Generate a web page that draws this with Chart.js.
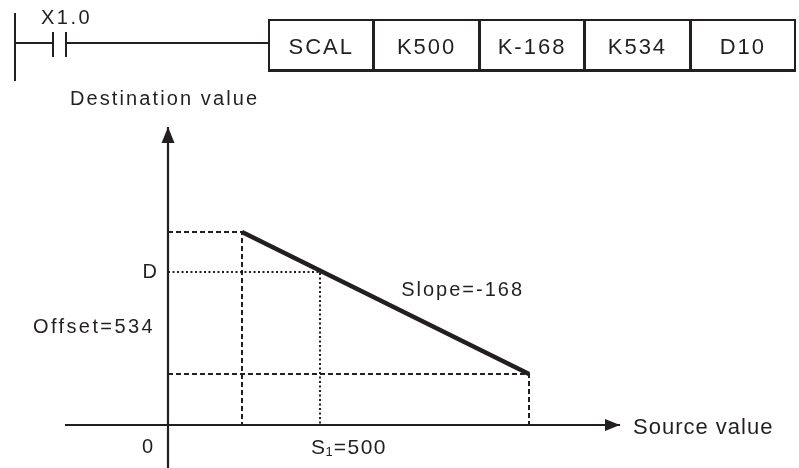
<!DOCTYPE html>
<html>
<head>
<meta charset="utf-8">
<script src="https://cdn.jsdelivr.net/npm/chart.js@4.4.1/dist/chart.umd.min.js"></script>
<style>
  html, body { margin:0; padding:0; background:#ffffff; }
  body { width:799px; height:468px; position:relative; overflow:hidden; font-family:"Liberation Sans", Arial, sans-serif; color:#231f20; }
  #chart { position:absolute; left:0; top:0; }
  .seg { position:absolute; background:#231f20; }
  #contactLabel { position:absolute; left:41px; top:5px; font-size:20px; letter-spacing:2.5px; line-height:24px; }
  #box { position:absolute; left:268px; top:19px; width:524px; height:48px; border:2px solid #231f20; border-bottom-width:3px; display:flex; }
  #box div { flex:1 1 0; display:flex; align-items:center; justify-content:center; font-size:22px; letter-spacing:2px; padding-top:4px; box-sizing:border-box; }
  #box div + div { border-left:3px solid #231f20; }
</style>
</head>
<body>
<canvas id="chart" width="799" height="468"></canvas>
<div class="seg" style="left:14px;top:13px;width:2px;height:68px"></div>
<div class="seg" style="left:14px;top:42px;width:40px;height:2px"></div>
<div class="seg" style="left:52px;top:32px;width:2px;height:25px"></div>
<div class="seg" style="left:65px;top:32px;width:2px;height:25px"></div>
<div class="seg" style="left:65px;top:42px;width:204px;height:2px"></div>
<div id="contactLabel"></div>
<div id="box"></div>
<script>
// ---- ladder content ----
const contactName = 'X1.0';
const instructionCells = ['SCAL', 'K500', 'K-168', 'K534', 'D10'];

// ---- diagram values (schematic units: source on x, destination on y) ----
const sourceAxisRange = [-103, 452];   // horizontal axis extent
const destAxisRange = [-43, 298];      // vertical axis extent
const slopeSource = [74, 361];         // source values at the ends of the line
const slopeDest = [193, 51];           // destination values at the ends of the line
const s1Value = 152;                   // S1 = 500 position
const dValue = 153;                    // D level

// ---- text ----
const destTitle = 'Destination value';
const sourceTitle = 'Source value';
const dLabel = 'D';
const offsetLabel = 'Offset=534';
const slopeLabel = 'Slope=-168';
const zeroLabel = '0';
const s1Parts = ['S', '1', '=500'];

document.getElementById('contactLabel').textContent = contactName;
const box = document.getElementById('box');
instructionCells.forEach(t => { const d = document.createElement('div'); d.textContent = t; box.appendChild(d); });

const ink = '#231f20';

const datasets = [
  { // source axis
    data: [{x: sourceAxisRange[0], y: 0}, {x: sourceAxisRange[1], y: 0}],
    borderWidth: 2.2, arrow: {len: 15, half: 6}
  },
  { // destination axis
    data: [{x: 0, y: destAxisRange[0]}, {x: 0, y: destAxisRange[1]}],
    borderWidth: 2.2, arrow: {len: 16, half: 6.5}
  },
  { // upper dashed guide
    data: [{x: 0, y: slopeDest[0]}, {x: slopeSource[0], y: slopeDest[0]}, {x: slopeSource[0], y: 0}],
    borderWidth: 2, borderDash: [5, 3]
  },
  { // D dotted guide
    data: [{x: 0, y: dValue}, {x: s1Value, y: dValue}, {x: s1Value, y: 0}],
    borderWidth: 2, borderDash: [2, 2.5]
  },
  { // lower dashed guide
    data: [{x: 0, y: slopeDest[1]}, {x: slopeSource[1], y: slopeDest[1]}, {x: slopeSource[1], y: 0}],
    borderWidth: 2, borderDash: [5, 3]
  },
  { // slope line
    data: slopeSource.map((s, i) => ({x: s, y: slopeDest[i]})),
    borderWidth: 4.5
  }
].map(d => Object.assign({borderColor: ink, showLine: true, pointRadius: 0, tension: 0, fill: false, clip: false, borderCapStyle: 'butt'}, d));

const arrowPlugin = {
  id: 'arrows',
  afterDatasetsDraw(chart) {
    const ctx = chart.ctx;
    chart.data.datasets.forEach((ds, i) => {
      if (!ds.arrow) return;
      const pts = chart.getDatasetMeta(i).data;
      const a = pts[pts.length - 2], b = pts[pts.length - 1];
      const ang = Math.atan2(b.y - a.y, b.x - a.x);
      ctx.save();
      ctx.translate(b.x, b.y);
      ctx.rotate(ang);
      ctx.beginPath();
      ctx.moveTo(0, 0);
      ctx.lineTo(-ds.arrow.len, -ds.arrow.half);
      ctx.lineTo(-ds.arrow.len, ds.arrow.half);
      ctx.closePath();
      ctx.fillStyle = ink;
      ctx.fill();
      ctx.restore();
    });
  }
};

const labelPlugin = {
  id: 'labels',
  afterDraw(chart) {
    const ctx = chart.ctx, xs = chart.scales.x, ys = chart.scales.y;
    const put = (text, sx, dy, align, size, spacing) => {
      ctx.save();
      ctx.font = size + 'px "Liberation Sans", Arial, sans-serif';
      ctx.letterSpacing = spacing + 'px';
      ctx.fillStyle = ink;
      ctx.textAlign = align;
      ctx.textBaseline = 'middle';
      ctx.fillText(text, xs.getPixelForValue(sx), ys.getPixelForValue(dy));
      ctx.restore();
    };
    put(destTitle, -98, 326, 'left', 20, 2.1);
    put(dLabel, -11, dValue, 'right', 20, 0);
    put(offsetLabel, -13, 98, 'right', 20, 2.4);
    put(slopeLabel, 356, 135, 'right', 20, 2);
    put(zeroLabel, -15, -22, 'right', 20, 0);
    put(sourceTitle, 465, -3, 'left', 22, 1);
    // S1=500 with subscript
    ctx.save();
    ctx.fillStyle = ink;
    ctx.textBaseline = 'middle';
    ctx.textAlign = 'left';
    let px = xs.getPixelForValue(143);
    const py = ys.getPixelForValue(-23);
    ctx.font = '21px "Liberation Sans", Arial, sans-serif';
    ctx.fillText(s1Parts[0], px, py);
    px += ctx.measureText(s1Parts[0]).width + 0.5;
    ctx.font = '13px "Liberation Sans", Arial, sans-serif';
    ctx.fillText(s1Parts[1], px, py + 4);
    px += ctx.measureText(s1Parts[1]).width + 1;
    ctx.font = '21px "Liberation Sans", Arial, sans-serif';
    ctx.letterSpacing = '1.5px';
    ctx.fillText(s1Parts[2], px, py);
    ctx.restore();
  }
};

new Chart(document.getElementById('chart'), {
  type: 'scatter',
  data: { datasets },
  options: {
    responsive: false,
    animation: false,
    events: [],
    layout: { padding: 0 },
    plugins: { legend: { display: false }, tooltip: { enabled: false } },
    scales: {
      x: { type: 'linear', display: false, min: -168, max: 631 },
      y: { type: 'linear', display: false, min: -43, max: 425 }
    }
  },
  plugins: [arrowPlugin, labelPlugin]
});
</script>
</body>
</html>
